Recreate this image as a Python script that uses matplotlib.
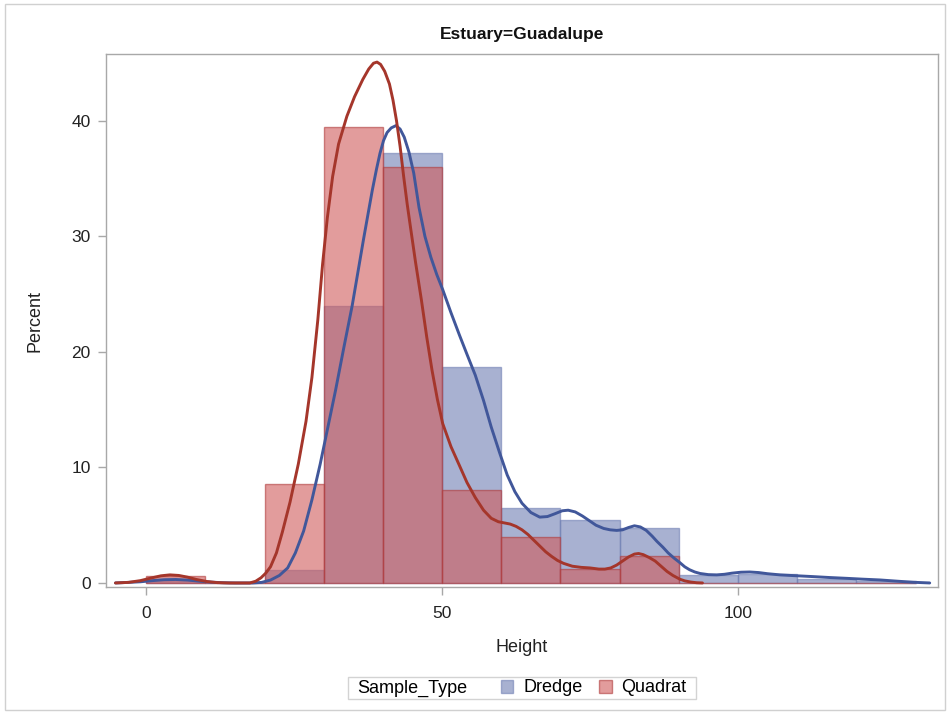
import numpy as np
import matplotlib
matplotlib.use("Agg")
import matplotlib.pyplot as plt
from matplotlib.patches import Patch, Rectangle
from matplotlib.offsetbox import HPacker, DrawingArea

# === Data ===
bin_edges = [0, 10, 20, 30, 40, 50, 60, 70, 80, 90, 100, 110, 120, 130]
dredge_pct = [0.2, 0.0, 1.1, 24.0, 37.2, 18.7, 6.5, 5.45, 4.8, 0.65, 0.8, 0.3, 0.15]
quadrat_pct = [0.6, 0.0, 8.6, 39.5, 36.0, 8.05, 4.0, 1.2, 2.3, 0.0, 0.0, 0.0, 0.0]

dredge_kde_x = [-5.2, -3, -1, 1, 3, 5, 7, 9, 11, 13, 15, 18, 19.5, 21, 22.5, 23.9,
                25.2, 26.6, 28, 29.4, 30.7, 32.0, 33.4, 34.8, 35.8, 36.7, 37.5, 38.2,
                38.9, 39.5, 40.1, 40.7, 41.4, 42.2, 42.9, 43.6, 44.4, 45.2, 46.1, 47.1,
                48.1, 49.1, 50.1, 51.5, 52.9, 54.2, 55.6, 57, 58.3, 59.7, 61.0, 62.3,
                63.5, 65, 66.5, 67.8, 69.1, 70.3, 71.3, 72.5, 73.7, 75, 76, 77.3, 78.4,
                79.5, 80.5, 81.5, 82.5, 83.5, 84.5, 85.5, 86.3, 87.3, 88.2, 89.2, 90.2,
                91, 91.8, 92.7, 93.6, 95, 96.4, 97.7, 99, 100.5, 102, 103.5, 105, 107.1,
                110, 112.7, 115.5, 118.4, 121, 124, 127, 129.6, 132.4]
dredge_kde_y = [0.0, 0.05, 0.1, 0.2, 0.28, 0.3, 0.25, 0.15, 0.07, 0.02, 0.0, 0.0, 0.05, 0.25, 0.65, 1.3,
                2.6, 4.5, 7.2, 10.3, 13.5, 16.7, 20.4, 24.0, 27.0, 29.7, 32.0, 34.0,
                35.8, 37.2, 38.3, 39.0, 39.4, 39.6, 39.3, 38.6, 37.3, 35.5, 32.5, 30.0,
                28.2, 26.7, 25.4, 23.4, 21.5, 19.8, 18.0, 15.8, 13.5, 11.3, 9.35, 7.9,
                6.9, 6.1, 5.7, 5.75, 6.0, 6.25, 6.3, 6.15, 5.8, 5.35, 5.0, 4.72, 4.6,
                4.55, 4.6, 4.8, 4.95, 4.85, 4.55, 4.05, 3.6, 3.1, 2.6, 2.15, 1.75,
                1.4, 1.15, 0.95, 0.82, 0.72, 0.7, 0.75, 0.85, 0.93, 0.95, 0.9, 0.8, 0.7,
                0.62, 0.55, 0.47, 0.4, 0.33, 0.26, 0.15, 0.06, 0.0]

quadrat_kde_x = [-5.2, -3, -1, 1, 2.5, 4, 5.5, 7, 8.5, 10.3, 12, 14, 17.5, 18.5, 19.4,
                 20.2, 21, 22, 23, 24.3, 25.7, 27, 28, 29, 29.8, 30.6, 31.5, 32.5, 33.9,
                 35.2, 36.6, 37.6, 38.4, 39.0, 39.6, 40.3, 41.1, 41.7, 42.3, 42.9, 43.5,
                 44.1, 44.6, 45.5, 46.5, 47.4, 48.3, 49.2, 50.1, 51.5, 52.9, 54.2, 55.6,
                 57, 58.3, 59.5, 60.5, 61.5, 62.5, 63.5, 64.5, 65.5, 66.5, 67.5, 68.5,
                 69.5, 70.5, 72, 73.5, 75, 76.5, 77.5, 78.5, 79.5, 80.5, 81.5, 82.5, 83.2,
                 84, 85, 86, 87, 88, 89, 90.2, 91, 92, 93, 94]
quadrat_kde_y = [0.0, 0.05, 0.2, 0.45, 0.62, 0.7, 0.65, 0.5, 0.3, 0.12, 0.03, 0.0, 0.0, 0.15, 0.45,
                 0.85, 1.4, 2.6, 4.4, 7.0, 10.3, 14.0, 17.8, 22.8, 27.6, 31.6, 35.2, 38.0, 40.4,
                 42.1, 43.6, 44.5, 45.0, 45.1, 44.9, 44.3, 43.2, 41.8, 40.0, 37.8, 35.2,
                 32.8, 31.0, 27.8, 24.5, 21.3, 18.4, 15.9, 13.8, 11.8, 10.2, 8.7, 7.4,
                 6.3, 5.6, 5.3, 5.2, 5.1, 4.9, 4.6, 4.2, 3.7, 3.2, 2.7, 2.3,
                 1.95, 1.7, 1.45, 1.35, 1.3, 1.2, 1.2, 1.3, 1.55, 1.9, 2.25, 2.5, 2.55,
                 2.45, 2.2, 1.9, 1.45, 1.0, 0.65, 0.32, 0.18, 0.08, 0.02, 0.0]

x_ticks = [0, 50, 100]
y_ticks = [0, 10, 20, 30, 40]

blue_fill = "#6F7EB3"
red_fill = "#D05B5B"
blue_line = "#41579A"
red_line = "#A5362B"
frame_gray = "#A8A8A8"
text_col = "#222222"

plt.rcParams["font.family"] = ["Liberation Sans", "DejaVu Sans"]

fig = plt.figure(figsize=(9.47, 7.12), dpi=100)
ax = fig.add_axes([106 / 947, 1 - 587 / 712, (938 - 106) / 947, (587 - 54) / 712])

# light outer border of the graph
fig.add_artist(Rectangle((5 / 947, 2 / 712), 940 / 947, 706 / 712, transform=fig.transFigure,
                         fill=False, edgecolor="#D0D0D0", linewidth=1))

lefts = bin_edges[:-1]
width = np.diff(bin_edges)
ax.bar(lefts, dredge_pct, width=width, align="edge", color=blue_fill, alpha=0.6,
       edgecolor=blue_fill, linewidth=1, zorder=2)
ax.bar(lefts, quadrat_pct, width=width, align="edge", color=red_fill, alpha=0.6,
       edgecolor="#B03A3A", linewidth=1, zorder=3)

ax.plot(dredge_kde_x, dredge_kde_y, color=blue_line, linewidth=2.1, zorder=4,
        solid_joinstyle="round", solid_capstyle="round")
ax.plot(quadrat_kde_x, quadrat_kde_y, color=red_line, linewidth=2.1, zorder=5,
        solid_joinstyle="round", solid_capstyle="round")

ax.set_xlim(-6.8, 133.8)
ax.set_ylim(-0.35, 45.8)
ax.set_xticks(x_ticks)
ax.set_yticks(y_ticks)
ax.tick_params(axis="both", colors=frame_gray, labelcolor=text_col, labelsize=12.5,
               length=6, width=1)
ax.tick_params(axis="x", pad=8)
ax.tick_params(axis="y", pad=5)
for s in ax.spines.values():
    s.set_color(frame_gray)
    s.set_linewidth(1)

ax.set_xlabel("Height", fontsize=13, color=text_col, labelpad=13)
ax.set_ylabel("Percent", fontsize=13, color=text_col, labelpad=20)

fig.text(522 / 947, 1 - 34 / 712, "Estuary=Guadalupe", ha="center", va="center",
         fontsize=12.5, fontweight="bold", color="#111111")

handles = [Patch(facecolor=blue_fill, alpha=0.6, edgecolor=blue_fill),
           Patch(facecolor=red_fill, alpha=0.6, edgecolor="#B03A3A")]
leg = fig.legend(handles, ["Dredge", "Quadrat"], title="Sample_Type", ncol=2,
                 loc="center", bbox_to_anchor=(522 / 947, 1 - 688 / 712),
                 fontsize=13, title_fontsize=13, frameon=True, fancybox=False,
                 edgecolor="#C8C8C8", handlelength=0.7, handleheight=0.7,
                 handletextpad=0.55, columnspacing=0.9, borderpad=0.1)
leg.get_frame().set_linewidth(1)
# put the legend title on the left of the entries, SAS style
inner = HPacker(pad=0, sep=24, align="center",
                children=[leg._legend_title_box, leg._legend_handle_box])
box = HPacker(pad=2, sep=0, align="center",
              children=[DrawingArea(5, 1), inner, DrawingArea(5, 1)])
box.set_figure(fig)
leg._legend_box = box
box.set_offset(leg._findoffset)

fig.savefig("out.png", dpi=100)
